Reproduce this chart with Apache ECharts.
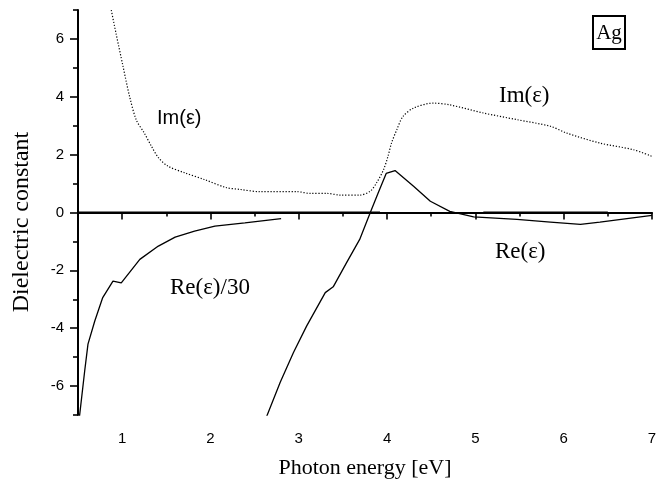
<!DOCTYPE html>
<html lang="en">

<head>
  <meta charset="UTF-8">
  <title>Ag dielectric constant</title>
  <script src="https://cdn.jsdelivr.net/npm/echarts@6.0.0/dist/echarts.min.js"></script>
  <style>
    html, body { margin: 0; padding: 0; background: #fff; }
    #main { width: 665px; height: 484px; }
  </style>
</head>

<body>
  <div id="main"></div>
  <script type="text/javascript">
    // values: [photon energy eV, value]
    var imEps = [
      [0.87, 7.1], [0.93, 6.2], [1.01, 5.05], [1.085, 4.0], [1.16, 3.2], [1.25, 2.75],
      [1.33, 2.3], [1.41, 1.9], [1.52, 1.6], [1.71, 1.37], [1.93, 1.14], [2.18, 0.86],
      [2.33, 0.8], [2.56, 0.72], [2.98, 0.72], [3.13, 0.66], [3.32, 0.66], [3.47, 0.6],
      [3.69, 0.6], [3.81, 0.74], [3.88, 1.02], [3.96, 1.48], [4.01, 1.94], [4.05, 2.4],
      [4.11, 2.86], [4.18, 3.32], [4.3, 3.61], [4.52, 3.78], [4.71, 3.72], [5.09, 3.44],
      [5.47, 3.21], [5.85, 2.98], [6.03, 2.75], [6.41, 2.4], [6.79, 2.17], [7.0, 1.94]
    ];
    var reEpsDiv30 = [
      [0.515, -7.1], [0.576, -5.47], [0.613, -4.55], [0.69, -3.75], [0.78, -2.94],
      [0.896, -2.37], [0.99, -2.43], [1.2, -1.62], [1.41, -1.16], [1.6, -0.85],
      [1.82, -0.64], [2.05, -0.47], [2.39, -0.36], [2.8, -0.21]
    ];
    var reEps = [
      [2.63, -7.1], [2.79, -5.87], [2.94, -4.84], [3.09, -3.92], [3.3, -2.77], [3.39, -2.57],
      [3.54, -1.74], [3.69, -0.93], [3.81, 0], [3.9, 0.68], [3.99, 1.35], [4.09, 1.45],
      [4.3, 0.91], [4.49, 0.39], [4.71, 0.04], [4.98, -0.15], [5.47, -0.24], [5.85, -0.33],
      [6.19, -0.41], [6.41, -0.33], [7.0, -0.1]
    ];
    // zero line break points (thick, thin, thick)
    var zeroX = [0.5, 3.92, 5.09, 6.5];

    var xMajor = [1, 2, 3, 4, 5, 6, 7];
    var xMinor = [0.5, 1.5, 2.5, 3.5, 4.5, 5.5, 6.5];
    var yMajor = [-6, -4, -2, 0, 2, 4, 6];
    var yMinor = [-7, -5, -3, -1, 1, 3, 5, 7];

    var serif = '"Liberation Serif", "DejaVu Serif", serif';
    var sans = '"Liberation Sans", Arial, sans-serif';

    var myChart = echarts.init(document.getElementById('main'));

    var axisLine = { show: true, lineStyle: { color: '#000', width: 2 } };
    var tickStyle = { color: '#000', width: 1.6 };

    var option = {
      animation: false,
      backgroundColor: '#fff',
      grid: { left: 78, right: 13, top: 10, bottom: 67 },
      xAxis: [{
        type: 'value', min: 0.5, max: 7,
        name: 'Photon energy [eV]', nameLocation: 'middle', nameGap: 42,
        nameTextStyle: { fontFamily: serif, fontSize: 22, color: '#000' },
        axisLine: axisLine,
        axisTick: { show: true, inside: false, customValues: xMajor, length: 7, lineStyle: tickStyle },
        axisLabel: { customValues: xMajor, margin: 16, fontFamily: sans, fontSize: 15, color: '#000' },
        splitLine: { show: false }
      }, {
        type: 'value', min: 0.5, max: 7, position: 'bottom',
        axisLine: { show: false },
        axisTick: { show: true, inside: false, customValues: xMinor, length: 4, lineStyle: tickStyle },
        axisLabel: { show: false },
        splitLine: { show: false }
      }],
      yAxis: [{
        type: 'value', min: -7, max: 7,
        axisLine: axisLine,
        axisTick: { show: true, inside: false, customValues: yMajor, length: 8, lineStyle: tickStyle },
        axisLabel: { customValues: yMajor, margin: 14, fontFamily: sans, fontSize: 15, color: '#000' },
        splitLine: { show: false }
      }, {
        type: 'value', min: -7, max: 7, position: 'left',
        axisLine: { show: false },
        axisTick: { show: true, inside: false, customValues: yMinor, length: 5, lineStyle: tickStyle },
        axisLabel: { show: false },
        splitLine: { show: false }
      }],
      series: [{
        name: 'zero thick a', type: 'line', symbol: 'none',
        data: [[zeroX[0], 0], [zeroX[1], 0]],
        lineStyle: { color: '#000', width: 2 }
      }, {
        name: 'zero thin', type: 'line', symbol: 'none',
        data: [[zeroX[1], 0], [zeroX[2], 0]],
        lineStyle: { color: '#000', width: 1 }
      }, {
        name: 'zero thick b', type: 'line', symbol: 'none',
        data: [[zeroX[2], 0], [zeroX[3], 0]],
        lineStyle: { color: '#000', width: 2 }
      }, {
        name: 'Im', type: 'line', symbol: 'none', smooth: 0.3,
        data: imEps,
        lineStyle: { color: '#000', width: 1.2, type: [1.2, 1.8] }
      }, {
        name: 'Re/30', type: 'line', symbol: 'none',
        data: reEpsDiv30,
        lineStyle: { color: '#000', width: 1.3 }
      }, {
        name: 'Re', type: 'line', symbol: 'none',
        data: reEps,
        lineStyle: { color: '#000', width: 1.3 }
      }],
      graphic: [
        { type: 'text', x: 22, y: 222, rotation: Math.PI / 2,
          style: { text: 'Dielectric constant', font: '24px ' + serif, fill: '#000', align: 'center', verticalAlign: 'middle' } },
        { type: 'text', left: 157, top: 108, style: { text: 'Im(ε)', font: '20px ' + sans, fill: '#000' } },
        { type: 'text', left: 499, top: 84, style: { text: 'Im(ε)', font: '23px ' + serif, fill: '#000' } },
        { type: 'text', left: 170, top: 276, style: { text: 'Re(ε)/30', font: '23px ' + serif, fill: '#000' } },
        { type: 'text', left: 495, top: 240, style: { text: 'Re(ε)', font: '23px ' + serif, fill: '#000' } },
        { type: 'rect', shape: { x: 593, y: 16, width: 32, height: 33 }, style: { fill: 'none', stroke: '#000', lineWidth: 2 } },
        { type: 'text', x: 609, y: 33, style: { text: 'Ag', font: '21px ' + serif, fill: '#000', align: 'center', verticalAlign: 'middle' } }
      ]
    };

    myChart.setOption(option);

    window.onresize = function() {
      myChart.resize();
    }
  </script>
</body>

</html>
